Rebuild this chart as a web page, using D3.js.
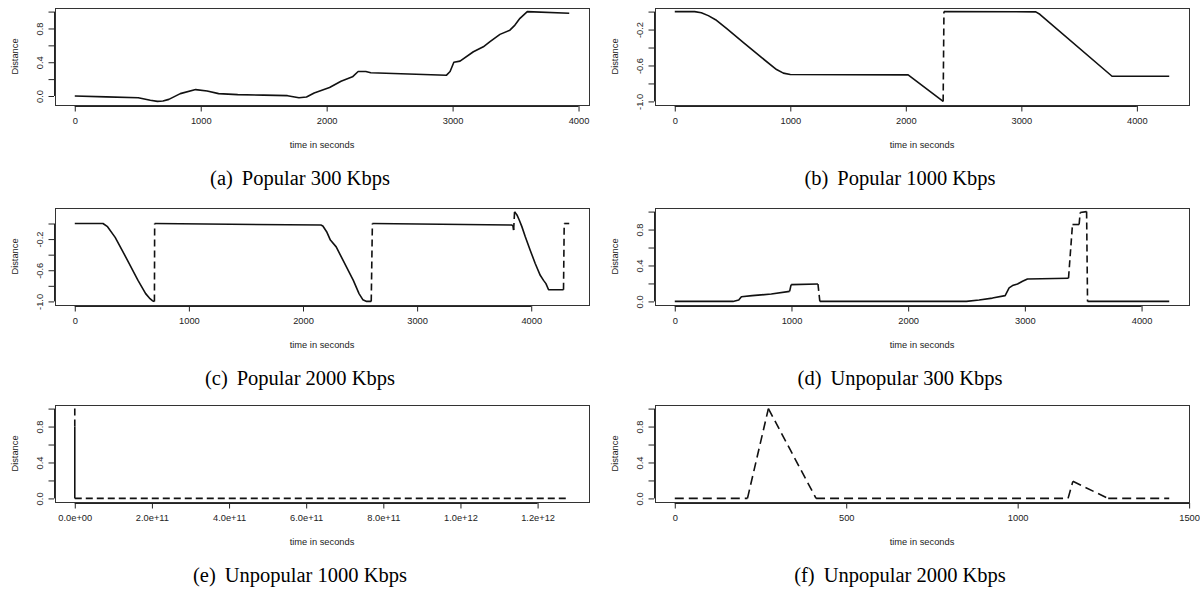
<!DOCTYPE html>
<html lang="en">
<head>
<meta charset="UTF-8"/>
<title>Distance over time - six panels</title>
<script src="https://d3js.org/d3.v7.min.js"></script>
<style>
	body { margin: 0; background: #fff; }
	.box { fill: none; stroke: #333; stroke-width: 1; }
	.axis path, .axis line { stroke: #222; stroke-width: 1; fill: none; }
	.axis text { font-family: "Liberation Sans", Arial, sans-serif; font-size: 9.3px; fill: #222; }
	.lab { font-family: "Liberation Sans", Arial, sans-serif; font-size: 9.3px; fill: #222; }
	.cap { font-family: "Liberation Serif", "Times New Roman", serif; font-size: 20.5px; fill: #000; }
	.trace { fill: none; stroke: #111; stroke-width: 1.6; stroke-linejoin: round; }
</style>
</head>
<body>
<div id="chart"></div>
<script>
// ---- data ----
var captions = ["(a)", "(b)", "(c)", "(d)", "(e)", "(f)"];
var captionText = ["Popular 300 Kbps", "Popular 1000 Kbps", "Popular 2000 Kbps",
                   "Unpopular 300 Kbps", "Unpopular 1000 Kbps", "Unpopular 2000 Kbps"];

// (a) Popular 300 Kbps
var tA = [0, 250, 504, 600, 656, 700, 747, 838, 960, 1051, 1142, 1294, 1500, 1689, 1780, 1840, 1901, 2023, 2114, 2205, 2250, 2311, 2350, 2950, 2980, 3010, 3059, 3165, 3244, 3297, 3376, 3455, 3495, 3535, 3593, 3926];
var vA = [0, -0.01, -0.02, -0.05, -0.064, -0.06, -0.04, 0.028, 0.076, 0.06, 0.028, 0.016, 0.01, 0.004, -0.02, -0.012, 0.036, 0.1, 0.175, 0.227, 0.29, 0.29, 0.275, 0.245, 0.29, 0.4, 0.413, 0.524, 0.583, 0.643, 0.73, 0.78, 0.84, 0.92, 1.0, 0.98];
var breaksA = [];

// (b) Popular 1000 Kbps
var tB = [0, 172, 230, 290, 353, 450, 600, 750, 881, 940, 1000, 2020, 2323, 2330, 3125, 3160, 3785, 4280];
var vB = [0, 0, -0.012, -0.045, -0.09, -0.19, -0.35, -0.51, -0.645, -0.685, -0.70, -0.705, -1.0, 0, -0.003, -0.03, -0.72, -0.72];
var breaksB = [13];

// (c) Popular 2000 Kbps
var tC = [0, 247, 287, 354, 454, 554, 621, 654, 680, 698, 700, 2157, 2174, 2207, 2240, 2291, 2357, 2441, 2491, 2524, 2558, 2598, 2608, 3831, 3840, 3846, 3854, 3875, 3895, 3918, 3948, 3991, 4035, 4079, 4108, 4129, 4152, 4283, 4289, 4333];
var vC = [0, 0, -0.041, -0.178, -0.45, -0.73, -0.90, -0.957, -0.99, -1.0, 0, -0.02, -0.032, -0.105, -0.213, -0.30, -0.49, -0.73, -0.90, -0.978, -1.0, -1.0, 0, -0.02, -0.032, -0.084, 0.153, 0.11, 0.045, -0.04, -0.17, -0.342, -0.514, -0.665, -0.73, -0.772, -0.85, -0.85, 0, 0];
var breaksC = [10, 22, 26, 38];

// (d) Unpopular 300 Kbps
var tD = [0, 499, 548, 571, 663, 827, 984, 997, 1227, 1243, 2499, 2608, 2722, 2831, 2865, 2894, 2937, 2980, 3022, 3374, 3408, 3465, 3474, 3529, 3537, 4237];
var vD = [0, 0, 0.015, 0.052, 0.064, 0.082, 0.112, 0.187, 0.194, 0, 0, 0.015, 0.037, 0.064, 0.15, 0.176, 0.194, 0.224, 0.25, 0.258, 0.856, 0.856, 0.99, 1.0, 0, 0];
var breaksD = [7, 9, 20, 22, 24];

// (e) Unpopular 1000 Kbps
var tE = [0, 0, 0, 1.282e12];
var vE = [1.0, 0.8, 0, 0];
var breaksE = [1, 3];

// (f) Unpopular 2000 Kbps
var tF = [0, 212, 273, 412, 1147, 1161, 1264, 1442];
var vF = [0, 0, 1.0, 0, 0, 0.19, 0, 0];
var breaksF = [1, 2, 3, 4, 5, 6, 7];

// ticks and tick labels
var xTicks4000 = [0, 1000, 2000, 3000, 4000];
var xLabels4000 = ["0", "1000", "2000", "3000", "4000"];
var xTicksE = [0, 2e11, 4e11, 6e11, 8e11, 1e12, 1.2e12];
var xLabelsE = ["0.0e+00", "2.0e+11", "4.0e+11", "6.0e+11", "8.0e+11", "1.0e+12", "1.2e+12"];
var xTicksF = [0, 500, 1000, 1500];
var xLabelsF = ["0", "500", "1000", "1500"];
var yTicksPos = [0, 0.2, 0.4, 0.6, 0.8, 1.0];
var yLabelsPos = ["0.0", "", "0.4", "", "0.8", ""];
var yTicksNeg = [-1.0, -0.8, -0.6, -0.4, -0.2, 0];
var yLabelsNeg = ["-1.0", "", "-0.6", "", "-0.2", ""];

var xTitle = "time in seconds";
var yTitle = "Distance";

// ---- layout ----
var w = 1200, h = 589;
var colX = [0, 600];
var rowY = [0, 200, 397];
var plotL = 55, plotR = 589, plotT = 8, plotB = 105;

var panels = [
	{t: tA, v: vA, br: breaksA, xt: xTicks4000, xl: xLabels4000, yt: yTicksPos, yl: yLabelsPos, col: 0, row: 0, dash: "7,4"},
	{t: tB, v: vB, br: breaksB, xt: xTicks4000, xl: xLabels4000, yt: yTicksNeg, yl: yLabelsNeg, col: 1, row: 0, dash: "7,4"},
	{t: tC, v: vC, br: breaksC, xt: xTicks4000, xl: xLabels4000, yt: yTicksNeg, yl: yLabelsNeg, col: 0, row: 1, dash: "7,4"},
	{t: tD, v: vD, br: breaksD, xt: xTicks4000, xl: xLabels4000, yt: yTicksPos, yl: yLabelsPos, col: 1, row: 1, dash: "7,4"},
	{t: tE, v: vE, br: breaksE, xt: xTicksE, xl: xLabelsE, yt: yTicksPos, yl: yLabelsPos, col: 0, row: 2, dash: "7,4"},
	{t: tF, v: vF, br: breaksF, xt: xTicksF, xl: xLabelsF, yt: yTicksPos, yl: yLabelsPos, col: 1, row: 2, dash: "9,5"}
];

var svg = d3.select("#chart").append("svg")
	.attr("width", w)
	.attr("height", h);

// R style range: data extent widened by 4% on each side
function padded(arr) {
	var e = d3.extent(arr);
	var p = (e[1] - e[0]) * 0.04;
	return [e[0] - p, e[1] + p];
}

panels.forEach(function(p, k) {
	var g = svg.append("g")
		.attr("transform", "translate(" + colX[p.col] + "," + rowY[p.row] + ")");

	var xScale = d3.scaleLinear().domain(padded(p.t)).range([plotL, plotR]);
	var yScale = d3.scaleLinear().domain(padded(p.v)).range([plotB, plotT]);

	// box
	g.append("rect")
		.attr("class", "box")
		.attr("x", plotL + 0.5)
		.attr("y", plotT + 0.5)
		.attr("width", plotR - plotL)
		.attr("height", plotB - plotT);

	// x axis
	var xAxis = d3.axisBottom(xScale)
		.tickValues(p.xt)
		.tickSize(5.5)
		.tickSizeOuter(0)
		.tickPadding(6)
		.tickFormat(function(d, i) { return p.xl[i]; });
	var gx = g.append("g")
		.attr("class", "axis")
		.attr("transform", "translate(0," + (plotB + 1) + ")")
		.call(xAxis);
	gx.select(".domain")
		.attr("d", "M" + xScale(p.xt[0]) + ",0.5H" + xScale(p.xt[p.xt.length - 1]));

	// y axis
	var yAxis = d3.axisLeft(yScale)
		.tickValues(p.yt)
		.tickSize(5.5)
		.tickSizeOuter(0)
		.tickFormat(function(d, i) { return p.yl[i]; });
	var gy = g.append("g")
		.attr("class", "axis")
		.attr("transform", "translate(" + (plotL - 1) + ",0)")
		.call(yAxis);
	gy.select(".domain")
		.attr("d", "M0.5," + yScale(p.yt[0]) + "V" + yScale(p.yt[p.yt.length - 1]));
	gy.selectAll(".tick text")
		.attr("transform", "rotate(-90)")
		.attr("text-anchor", "middle")
		.attr("x", 0)
		.attr("y", -14.7)
		.attr("dy", "0.35em");

	// axis titles
	g.append("text")
		.attr("class", "lab")
		.attr("x", (plotL + plotR) / 2)
		.attr("y", 145)
		.attr("dy", "0.35em")
		.attr("text-anchor", "middle")
		.text(xTitle);
	g.append("text")
		.attr("class", "lab")
		.attr("transform", "translate(15," + ((plotT + plotB) / 2) + ") rotate(-90)")
		.attr("dy", "0.35em")
		.attr("text-anchor", "middle")
		.text(yTitle);

	// caption
	var cap = g.append("text")
		.attr("class", "cap")
		.attr("x", 300)
		.attr("y", 185)
		.attr("text-anchor", "middle");
	cap.append("tspan").text(captions[k]);
	cap.append("tspan").attr("dx", 9).text(captionText[k]);

	// trace: solid runs, dashed jumps between runs
	var pts = p.t.map(function(t, i) { return [t, p.v[i]]; });
	var starts = [0].concat(p.br);
	var line = d3.line()
		.x(function(d) { return xScale(d[0]); })
		.y(function(d) { return yScale(d[1]); });

	starts.forEach(function(s, j) {
		var e = (j + 1 < starts.length) ? starts[j + 1] : pts.length;
		var run = pts.slice(s, e);
		if (run.length > 1) {
			g.append("path")
				.datum(run)
				.attr("class", "trace")
				.attr("d", line);
		}
	});
	p.br.forEach(function(b) {
		g.append("path")
			.datum([pts[b - 1], pts[b]])
			.attr("class", "trace")
			.attr("stroke-dasharray", p.dash)
			.attr("d", line);
	});
});
</script>
</body>
</html>
